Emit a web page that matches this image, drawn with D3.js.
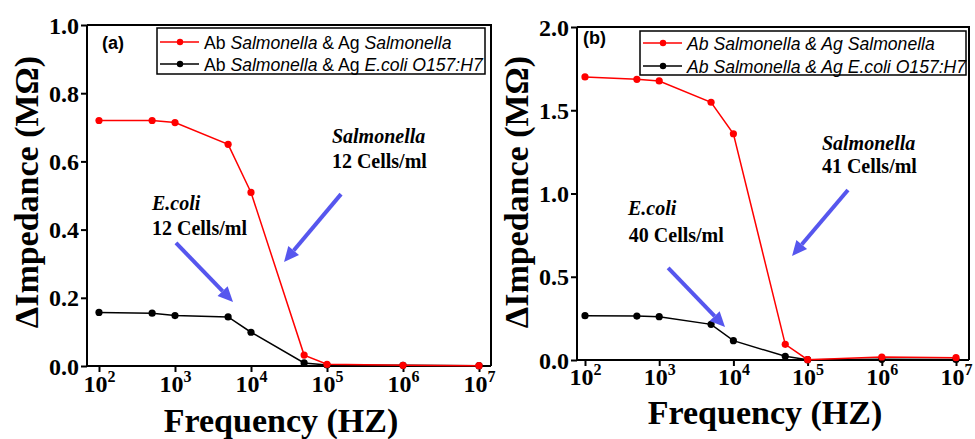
<!DOCTYPE html>
<html>
<head>
<meta charset="utf-8">
<script src="https://cdn.jsdelivr.net/npm/d3@7"></script>
<style>
  html, body { margin: 0; padding: 0; background: #fff; }
  svg { display: block; }
</style>
</head>
<body>
<svg id="chart" width="975" height="439"></svg>
<script>
// ---------------- data ----------------
const frequency = [1e2, 5e2, 1e3, 5e3, 1e4, 5e4, 1e5, 1e6, 1e7];

const aSalmonella = [0.720, 0.720, 0.714, 0.650, 0.509, 0.032, 0.005, 0.002, 0.001];
const aEcoli      = [0.157, 0.155, 0.148, 0.144, 0.099, 0.009, 0.003, 0.002, 0.001];

const bSalmonella = [1.700, 1.686, 1.676, 1.548, 1.359, 0.094, 0.002, 0.018, 0.014];
const bEcoli      = [0.266, 0.264, 0.260, 0.214, 0.116, 0.022, 0.002, 0.004, 0.003];

const xTicks  = [1e2, 1e3, 1e4, 1e5, 1e6, 1e7];
const xExps   = ["2", "3", "4", "5", "6", "7"];
const yTicksA = [0.0, 0.2, 0.4, 0.6, 0.8, 1.0];
const yTicksB = [0.0, 0.5, 1.0, 1.5, 2.0];

const panelLabels = ["(a)", "(b)"];
const countsSalmonella = ["12 Cells/ml", "41 Cells/ml"];
const countsEcoli      = ["12 Cells/ml", "40 Cells/ml"];

// ---------------- layout ----------------
const svg = d3.select("#chart");
const SERIF = "'Liberation Serif', Tinos, 'Times New Roman', Times, 'DejaVu Serif', 'Noto Serif', serif";
const SANS  = "'Liberation Sans', Arial, sans-serif";
const ARROW = "#5656ee";

const panels = [
  {
    left: 87, right: 491, top: 25, bottom: 366, padL: 12, padR: 12,
    ymax: 1.0, yTicks: yTicksA, yFmt: d3.format(".1f"),
    red: aSalmonella, black: aEcoli, label: panelLabels[0],
    labelPos: [102, 49], legend: { x0: 157, x1: 485, y0: 28, y1: 74, r1: 42, r2: 64, allItalic: false },
    ytitleX: 38, ytitleY: 192, xtitleY: 432, tickBase: 26,
    salText: [1.16e5, 0.654], salCnt: [1.16e5, 0.581], salArrow: [[1.53e5, 0.504], [2.72e4, 0.305]],
    ecoText: [4.98e2, 0.457], ecoCnt: [4.98e2, 0.384], ecoArrow: [[1.03e3, 0.361], [5.8e3, 0.188]],
    salCount: countsSalmonella[0], ecoCount: countsEcoli[0]
  },
  {
    left: 577, right: 969, top: 27, bottom: 360, padL: 8, padR: 13,
    ymax: 2.0, yTicks: yTicksB, yFmt: d3.format(".1f"),
    red: bSalmonella, black: bEcoli, label: panelLabels[1],
    labelPos: [583, 44], legend: { x0: 640, x1: 966, y0: 31, y1: 75, r1: 43, r2: 66, allItalic: true },
    ytitleX: 528, ytitleY: 192, xtitleY: 424, tickBase: 25,
    salText: [1.56e5, 1.261], salCnt: [1.56e5, 1.123], salArrow: [[3.5e5, 1.021], [6.17e4, 0.625]],
    ecoText: [3.8e2, 0.871], ecoCnt: [3.9e2, 0.709], ecoArrow: [[1.32e3, 0.553], [7.71e3, 0.198]],
    salCount: countsSalmonella[1], ecoCount: countsEcoli[1]
  }
];

function drawArrow(g, x1, y1, x2, y2) {
  const ang = Math.atan2(y2 - y1, x2 - x1);
  const headL = 15, headW = 7;
  const bx = x2 - headL * Math.cos(ang), by = y2 - headL * Math.sin(ang);
  g.append("line").attr("x1", x1).attr("y1", y1).attr("x2", bx).attr("y2", by)
    .attr("stroke", ARROW).attr("stroke-width", 4);
  const px = -Math.sin(ang) * headW, py = Math.cos(ang) * headW;
  g.append("path")
    .attr("d", `M${x2},${y2}L${bx + px},${by + py}L${bx - px},${by - py}Z`)
    .attr("fill", ARROW);
}

panels.forEach(p => {
  const g = svg.append("g");
  const x = d3.scaleLog().domain([1e2, 1e7]).range([p.left + p.padL, p.right - p.padR]);
  const y = d3.scaleLinear().domain([0, p.ymax]).range([p.bottom, p.top]);

  // frame (top & right)
  g.append("path")
    .attr("d", `M${p.left},${p.top}H${p.right}V${p.bottom}`)
    .attr("fill", "none").attr("stroke", "#000").attr("stroke-width", 2);

  // x axis
  const xAxis = g.append("g").attr("transform", `translate(0,${p.bottom})`)
    .call(d3.axisBottom(x).tickValues(xTicks).tickSize(6).tickSizeOuter(0).tickFormat(""));
  xAxis.attr("font-family", null);
  xAxis.select(".domain").attr("d", `M${p.left},0H${p.right}`).attr("stroke-width", 2);
  xAxis.selectAll(".tick line").attr("stroke-width", 2);
  xAxis.selectAll(".tick").each(function(d, i) {
    const t = d3.select(this).append("text")
      .attr("y", p.tickBase).attr("fill", "#000")
      .attr("text-anchor", "middle")
      .attr("font-family", SERIF)
      .style("font-family", SERIF).style("font-weight", "bold").style("font-size", "24px");
    t.append("tspan").text("10");
    t.append("tspan").attr("dy", -10).style("font-size", "16px").text(xExps[i]);
  });

  // y axis
  const yAxis = g.append("g").attr("transform", `translate(${p.left},0)`)
    .call(d3.axisLeft(y).tickValues(p.yTicks).tickSize(6).tickSizeOuter(0).tickPadding(2).tickFormat(p.yFmt));
  yAxis.attr("font-family", SERIF);
  yAxis.select(".domain").attr("d", `M0,${p.bottom}V${p.top}`).attr("stroke-width", 2);
  yAxis.selectAll(".tick line").attr("stroke-width", 2);
  yAxis.selectAll(".tick text")
    .style("font-family", SERIF).style("font-weight", "bold").style("font-size", "24px")
    .attr("dy", "0.34em");

  // axis titles
  g.append("text")
    .attr("transform", `translate(${p.ytitleX},${p.ytitleY}) rotate(-90)`)
    .attr("text-anchor", "middle")
    .style("font-family", SERIF).style("font-weight", "bold").style("font-size", "34px")
    .text("ΔImpedance (MΩ)");
  g.append("text")
    .attr("x", (p.left + p.right) / 2 - 8).attr("y", p.xtitleY)
    .attr("text-anchor", "middle")
    .style("font-family", SERIF).style("font-weight", "bold").style("font-size", "34px")
    .text("Frequency (HZ)");

  // series
  const line = d3.line().x((d, i) => x(frequency[i])).y(d => y(d));
  [[p.black, "#000"], [p.red, "#ff0000"]].forEach(([vals, col]) => {
    g.append("path").datum(vals).attr("d", line)
      .attr("fill", "none").attr("stroke", col).attr("stroke-width", 1.5);
    g.selectAll(null).data(vals).enter().append("circle")
      .attr("cx", (d, i) => x(frequency[i])).attr("cy", d => y(d))
      .attr("r", 3.6).attr("fill", col);
  });

  // panel label
  g.append("text").attr("x", p.labelPos[0]).attr("y", p.labelPos[1])
    .style("font-family", SANS).style("font-weight", "bold").style("font-size", "18px")
    .text(p.label);

  // legend
  const L = p.legend;
  g.append("rect").attr("x", L.x0).attr("y", L.y0).attr("width", L.x1 - L.x0).attr("height", L.y1 - L.y0)
    .attr("fill", "#fff").attr("stroke", "#000").attr("stroke-width", 1.5);
  const rows = [
    { yy: L.r1, col: "#ff0000", parts: [["Ab ", false], ["Salmonella", true], [" & Ag ", false], ["Salmonella", true]] },
    { yy: L.r2, col: "#000",    parts: [["Ab ", false], ["Salmonella", true], [" & Ag ", false], ["E.coli O157:H7", true]] }
  ];
  rows.forEach(r => {
    g.append("line").attr("x1", L.x0 + 3).attr("x2", L.x0 + 42).attr("y1", r.yy).attr("y2", r.yy)
      .attr("stroke", r.col).attr("stroke-width", 1.5);
    g.append("circle").attr("cx", L.x0 + 23).attr("cy", r.yy).attr("r", 3.2).attr("fill", r.col);
    const t = g.append("text").attr("x", L.x0 + 47).attr("y", r.yy + 6.5)
      .style("font-family", SANS).style("font-size", "17.6px");
    r.parts.forEach(([s, it]) => {
      t.append("tspan").style("font-style", (it || L.allItalic) ? "italic" : "normal").text(s);
    });
  });

  // annotations
  const ann = (pos, txt, italic) => g.append("text")
    .attr("x", x(pos[0])).attr("y", y(pos[1]))
    .style("font-family", SERIF).style("font-weight", "bold").style("font-size", "20px")
    .style("font-style", italic ? "italic" : "normal")
    .style("white-space", "pre")
    .text(txt);
  ann(p.salText, "Salmonella", true);
  ann(p.salCnt, p.salCount, false);
  ann(p.ecoText, "E.coli", true);
  ann(p.ecoCnt, p.ecoCount, false);
  drawArrow(g, x(p.salArrow[0][0]), y(p.salArrow[0][1]), x(p.salArrow[1][0]), y(p.salArrow[1][1]));
  drawArrow(g, x(p.ecoArrow[0][0]), y(p.ecoArrow[0][1]), x(p.ecoArrow[1][0]), y(p.ecoArrow[1][1]));
});
</script>
</body>
</html>
